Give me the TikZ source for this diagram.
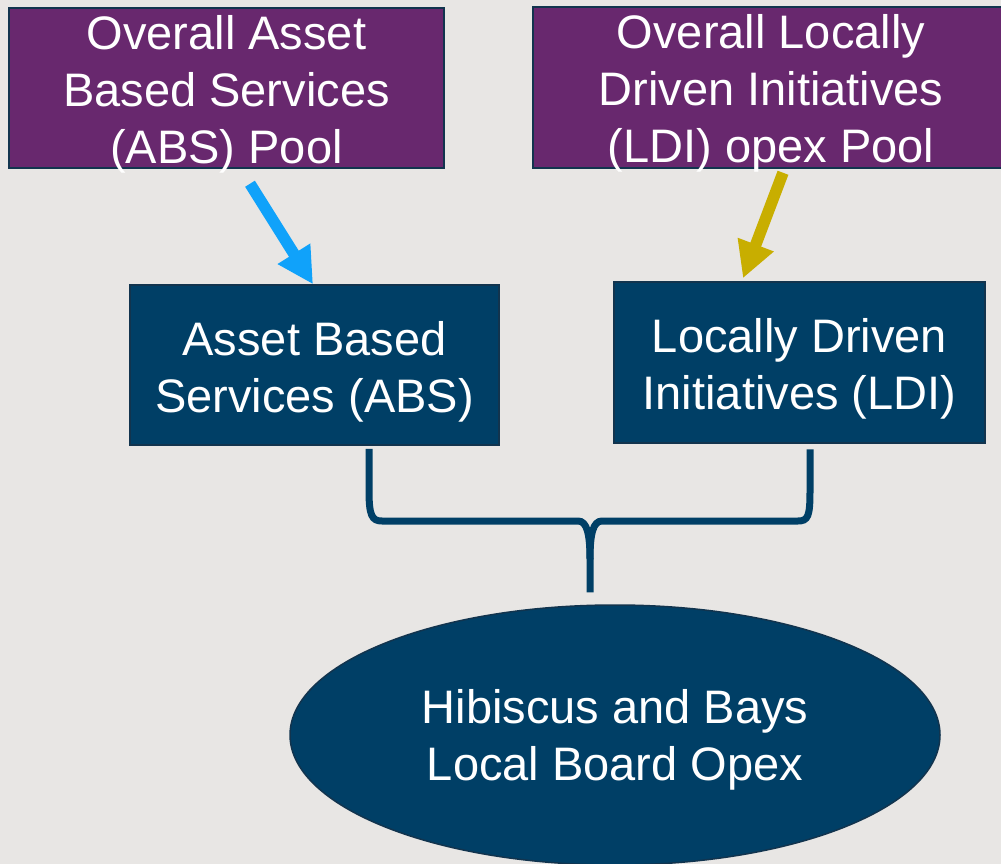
\documentclass[tikz,border=0pt]{standalone}
\usepackage{fontspec}
\setmainfont{Liberation Sans}
\usetikzlibrary{arrows.meta,shapes.geometric,calc}
\definecolor{bgc}{RGB}{232,230,228}
\definecolor{purp}{RGB}{104,40,110}
\definecolor{navy}{RGB}{0,63,102}
\definecolor{edge}{RGB}{18,52,78}
\definecolor{skyb}{RGB}{16,162,250}
\definecolor{olive}{RGB}{200,174,0}
\begin{document}
\begin{tikzpicture}[x=1pt,y=-1pt,
  poolbox/.style={draw=edge,line width=1.5pt,fill=purp,inner sep=0pt},
  navybox/.style={draw=edge,line width=1.5pt,fill=navy,inner sep=0pt},
  lbl/.style={text=white,align=center,inner sep=0pt,font=\fontsize{47}{57}\selectfont},
  bluearrow/.style={draw=skyb,line width=11.5pt,-{Triangle[width=36pt,length=36pt]}},
  olivearrow/.style={draw=olive,line width=11.5pt,-{Triangle[width=36pt,length=36pt]}},
  bracestyle/.style={draw=navy,line width=7pt}]
\fill[bgc] (0,0) rectangle (1001,864);
\useasboundingbox (0,0) rectangle (1001,864);
\begin{scope}
\clip (0,0) rectangle (1001,864);
% boxes
\node[poolbox,minimum width=435pt,minimum height=160pt] (abspool) at (226.5,88) {};
\node[poolbox,minimum width=470pt,minimum height=161pt] (ldipool) at (768,87.5) {};
\node[navybox,minimum width=369pt,minimum height=160pt] (abs) at (314.5,365) {};
\node[navybox,minimum width=371pt,minimum height=161pt] (ldi) at (799.5,362.5) {};
\node[ellipse,draw=edge,line width=1.5pt,fill=navy,minimum width=650pt,minimum height=260pt,inner sep=0pt] (hb) at (615,735) {};
% labels
\node[lbl] (t1) at ($(abspool.center)+(0,6)$) {Overall Asset\\Based Services\\(ABS) Pool};
\node[lbl] (t2) at ($(ldipool.center)+(3,6)$) {Overall Locally\\Driven Initiatives\\(LDI) opex Pool};
\node[lbl] (t3) at ($(abs.center)+(0,7)$) {Asset Based\\Services (ABS)};
\node[lbl] (t4) at ($(ldi.center)+(0,6)$) {Locally Driven\\Initiatives (LDI)};
\node[lbl] (t5) at ($(hb.center)+(0,5)$) {Hibiscus and Bays\\Local Board Opex};
% arrows
\coordinate (a1) at ($(abspool.south)+(23.5,15)$);
\coordinate (a1e) at ($(abs.north)+(-1.5,0)$);
\draw[bluearrow] (a1) -- (a1e);
\coordinate (a2) at ($(ldipool.south)+(15,4)$);
\coordinate (a2e) at ($(ldi.north)+(-56.5,-3)$);
\draw[olivearrow] (a2) -- (a2e);
% brace
\coordinate (bl) at ($(abs.south)+(54.5,3)$);
\coordinate (br) at ($(ldi.south)+(10.5,5.5)$);
\coordinate (bt) at ($(hb.north)+(-25,-12)$);
\draw[bracestyle] (bl) -- ++(0,42) .. controls ++(0,25) and (372,521) .. (382,521) -- (578,521)
  .. controls (587,521) and ($(bt)+(0,-58)$) .. ($(bt)+(0,-33)$) -- (bt);
\draw[bracestyle] ($(bt)+(0,-33)$) .. controls ($(bt)+(0,-58)$) and (593,521) .. (602,521) -- (798,521)
  .. controls (808,521) and ($(br)+(0,67)$) .. ($(br)+(0,42)$) -- (br);
\end{scope}
\end{tikzpicture}
\end{document}
